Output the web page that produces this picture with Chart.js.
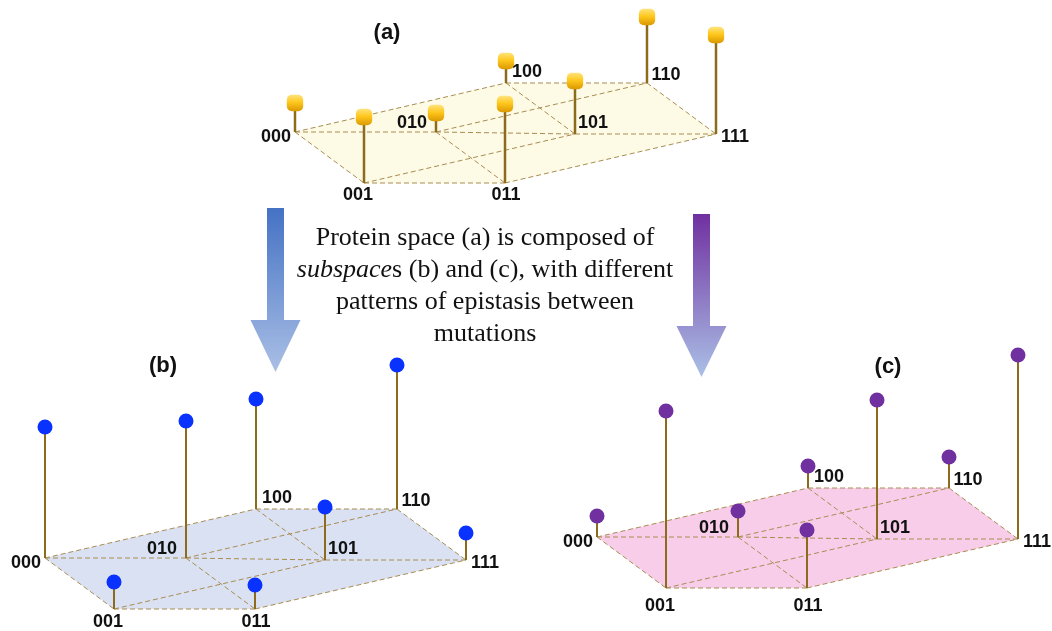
<!DOCTYPE html>
<html>
<head>
<meta charset="utf-8">
<script src="https://cdn.jsdelivr.net/npm/chart.js@4.4.1/dist/chart.umd.min.js"></script>
<style>
  html, body { margin: 0; padding: 0; background: #fff; overflow: hidden; }
  canvas { display: block; }
</style>
</head>
<body>
<canvas id="myChart" width="1052" height="631"></canvas>
<script>
// genotypes at the corners of the cube (mutation 1, 2, 3)
var genotypes = ["000", "001", "010", "011", "100", "101", "110", "111"];
// fitness of each genotype = stem height, in the three spaces
var fitnessA = [29, 66, 19, 79, 22, 53, 66, 99];
var fitnessB = [131, 27, 137, 24, 110, 53, 144, 27];
var fitnessC = [21, 177, 26, 58, 22, 139, 31, 184];
var panelNames = ["(a)", "(b)", "(c)"];
var captionLines = [
  [["Protein space (a) is composed of", false]],
  [["subspace", true], ["s (b) and (c), with different", false]],
  [["patterns of epistasis between", false]],
  [["mutations", false]]
];

// layout
var axesVec = [[211, -49], [141, 0], [69, 51]];
var panels = [
  { fit: fitnessA, origin: [295, 132], fill: "#fdfbe6", ball: "gold", title: [387, 33], stem: 2.5, drop: 12 },
  { fit: fitnessB, origin: [45, 558], fill: "#d9e1f2", ball: "#0a32ff", title: [163, 366], stem: 2, drop: 13 },
  { fit: fitnessC, origin: [597, 537], fill: "#f8cde9", ball: "#7030a0", title: [888, 367], stem: 2, drop: 18 }
];
var labelOffset = {
  "000": [-19, 5], "001": [-6, 0], "010": [-24, -9], "011": [1, 0],
  "100": [21, -11], "101": [18, -11], "110": [19, -8], "111": [19, 3]
};
var hexOrder = [0, 1, 3, 7, 6, 4, 0];

function corner(p, i) {
  var x = p.origin[0], y = p.origin[1];
  for (var k = 0; k < 3; k++) {
    if (genotypes[i][k] === "1") { x += axesVec[k][0]; y += axesVec[k][1]; }
  }
  return { x: x, y: y };
}

// cube edges (one mutation apart) plus the middle line 010-101
var edges = [];
for (var i = 0; i < 8; i++) {
  for (var j = i + 1; j < 8; j++) {
    var d = 0;
    for (var k = 0; k < 3; k++) if (genotypes[i][k] !== genotypes[j][k]) d++;
    if (d === 1) edges.push([i, j]);
  }
}
edges.push([2, 5]);

function goldBall(c) {
  if (c.type !== "data" || !c.raw) return "#f5b800";
  var y = c.chart.scales.y ? c.chart.scales.y.getPixelForValue(c.raw.y) : NaN;
  if (!isFinite(y)) y = c.raw.y;
  var g = c.chart.ctx.createLinearGradient(0, y - 8, 0, y + 8);
  g.addColorStop(0, "#ffe27a");
  g.addColorStop(0.45, "#ffc81e");
  g.addColorStop(1, "#dc9a00");
  return g;
}

var datasets = [];
panels.forEach(function (p) {
  datasets.push({
    data: hexOrder.map(function (i) { return corner(p, i); }),
    fill: "shape", backgroundColor: p.fill, borderColor: "rgba(0,0,0,0)", borderWidth: 0,
    pointRadius: 0, order: 4
  });
  edges.forEach(function (e) {
    datasets.push({
      data: [corner(p, e[0]), corner(p, e[1])],
      borderColor: "#a98c52", borderWidth: 1, borderDash: [5, 3], pointRadius: 0, fill: false, order: 3
    });
  });
  genotypes.forEach(function (g, i) {
    var b = corner(p, i);
    datasets.push({
      data: [b, { x: b.x, y: b.y - p.fit[i] }],
      borderColor: "#8d6b1d", borderWidth: p.stem, pointRadius: 0, fill: false, order: 2
    });
  });
  datasets.push({
    data: genotypes.map(function (g, i) { var b = corner(p, i); return { x: b.x, y: b.y - p.fit[i] }; }),
    showLine: false, fill: false, order: 1,
    pointStyle: p.ball === "gold" ? "rectRounded" : "circle",
    pointRadius: p.ball === "gold" ? 9.5 : 7.5,
    pointBackgroundColor: p.ball === "gold" ? goldBall : p.ball,
    pointBorderWidth: 0, pointBorderColor: "rgba(0,0,0,0)"
  });
});

function drawArrow(ctx, cx, top, headTop, tip, c1, c2) {
  var g = ctx.createLinearGradient(0, top, 0, tip);
  g.addColorStop(0, c1);
  g.addColorStop(1, c2);
  ctx.fillStyle = g;
  ctx.beginPath();
  ctx.moveTo(cx - 8.5, top);
  ctx.lineTo(cx + 8.5, top);
  ctx.lineTo(cx + 8.5, headTop);
  ctx.lineTo(cx + 25, headTop);
  ctx.lineTo(cx, tip);
  ctx.lineTo(cx - 25, headTop);
  ctx.lineTo(cx - 8.5, headTop);
  ctx.closePath();
  ctx.fill();
}

var decorations = {
  id: "decorations",
  beforeDatasetsDraw: function (chart) {
    var ctx = chart.ctx;
    ctx.save();
    drawArrow(ctx, 275.5, 208, 320, 372, "#4472c4", "#aabfe5");
    drawArrow(ctx, 701.5, 214, 326, 377, "#7030a0", "#aac0e6");
    // caption
    ctx.fillStyle = "#111";
    ctx.textBaseline = "alphabetic";
    captionLines.forEach(function (line, n) {
      var w = 0;
      line.forEach(function (s) {
        ctx.font = (s[1] ? "italic " : "") + "26px 'Liberation Serif'";
        w += ctx.measureText(s[0]).width;
      });
      var x = 485 - w / 2;
      ctx.textAlign = "left";
      line.forEach(function (s) {
        ctx.font = (s[1] ? "italic " : "") + "26px 'Liberation Serif'";
        ctx.fillText(s[0], x, 245 + n * 32);
        x += ctx.measureText(s[0]).width;
      });
    });
    ctx.restore();
  },
  afterDatasetsDraw: function (chart) {
    var ctx = chart.ctx, xs = chart.scales.x, ys = chart.scales.y;
    ctx.save();
    ctx.fillStyle = "#111";
    ctx.textAlign = "center";
    ctx.textBaseline = "middle";
    panels.forEach(function (p, n) {
      ctx.font = "bold 22px 'Liberation Sans'";
      ctx.fillText(panelNames[n], p.title[0], p.title[1]);
      ctx.font = "bold 18px 'Liberation Sans'";
      genotypes.forEach(function (g, i) {
        var c = corner(p, i);
        var off = labelOffset[g];
        var dy = (g === "001" || g === "011") ? p.drop : off[1];
        ctx.fillText(g, xs.getPixelForValue(c.x) + off[0], ys.getPixelForValue(c.y) + dy);
      });
    });
    ctx.restore();
  }
};

var ctx = document.getElementById("myChart").getContext("2d");
var myChart = new Chart(ctx, {
  type: "line",
  data: { datasets: datasets },
  options: {
    responsive: false,
    animation: false,
    devicePixelRatio: 1,
    layout: { padding: 0, autoPadding: false },
    plugins: { legend: { display: false }, tooltip: { enabled: false } },
    scales: {
      x: { type: "linear", min: 0, max: 1052, display: false },
      y: { type: "linear", min: 0, max: 631, reverse: true, display: false }
    }
  },
  plugins: [decorations]
});
</script>
</body>
</html>
